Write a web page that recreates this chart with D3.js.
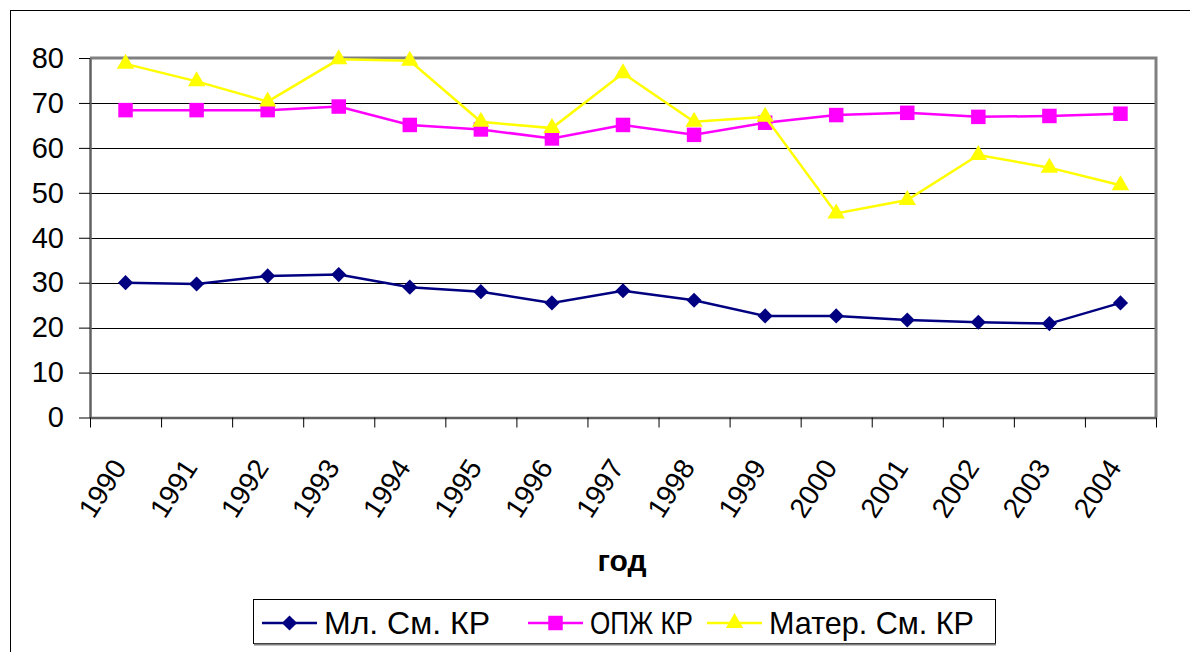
<!DOCTYPE html>
<html lang="ru">
<head>
<meta charset="UTF-8">
<title>Мл. См. КР / ОПЖ КР / Матер. См. КР</title>
<script src="https://cdn.jsdelivr.net/npm/d3@7"></script>
<style>
    body{ margin:0; background:#fff; }
    #svg_main{ width:1190px; height:652px; display:block; }
    text{ font-family:"Liberation Sans", Arial, sans-serif; fill:#000; }
    .grid line{ stroke:#000; stroke-width:1px; shape-rendering:crispEdges; }
    .series path.line{ fill:none; stroke-width:2.5px; }
</style>
</head>
<body>
<svg id="svg_main"></svg>
<script>
    // data
    const years = ['1990','1991','1992','1993','1994','1995','1996','1997','1998','1999','2000','2001','2002','2003','2004'];
    const mlSm   = [30.0, 29.7, 31.5, 31.8, 29.0, 28.0, 25.5, 28.2, 26.1, 22.6, 22.6, 21.7, 21.2, 20.9, 25.5];
    const opzh   = [68.4, 68.4, 68.4, 69.2, 65.1, 64.1, 62.1, 65.1, 62.9, 65.6, 67.3, 67.8, 66.9, 67.1, 67.6];
    const materSm= [78.7, 74.8, 70.3, 79.7, 79.4, 65.8, 64.4, 76.6, 65.8, 66.9, 45.4, 48.4, 58.4, 55.6, 51.7];
    const yTicks = [0, 10, 20, 30, 40, 50, 60, 70, 80];
    const seriesNames = ['Мл. См. КР', 'ОПЖ КР', 'Матер. См. КР'];
    const axisTitle = 'год';

    const width = 1190, height = 652;
    const plot = {left: 90, right: 1156, top: 58, bottom: 417.5};

    let svg = d3.select('#svg_main').attr('viewBox', [0, 0, width, height]);

    // outer chart border (runs off the right / bottom edges)
    svg.append('rect')
        .attr('x', 10.5).attr('y', 10.5)
        .attr('width', 1200).attr('height', 700)
        .attr('fill', '#fff').attr('stroke', '#000').attr('stroke-width', 1);

    let x = d3.scaleBand().domain(years).range([plot.left, plot.right]).padding(0);
    let xEdge = d3.scaleLinear().domain([0, years.length]).range([plot.left, plot.right]);
    let y = d3.scaleLinear().domain([0, 80]).range([plot.bottom, plot.top]);
    let cx = d => x(d) + x.bandwidth() / 2;

    // gridlines
    svg.append('g').attr('class', 'grid')
        .selectAll('line').data(yTicks.filter(v => v > 0 && v < 80)).enter()
        .append('line')
        .attr('x1', plot.left).attr('x2', plot.right)
        .attr('y1', d => Math.round(y(d)) + 0.5).attr('y2', d => Math.round(y(d)) + 0.5);

    // plot area frame: gray top and right
    svg.append('path')
        .attr('d', `M${plot.left},${plot.top}H${plot.right}V${plot.bottom}`)
        .attr('fill', 'none').attr('stroke', '#808080').attr('stroke-width', 3);

    // y axis
    let yAxis = d3.axisLeft(y).tickValues(yTicks).tickSize(11).tickPadding(15).tickSizeOuter(0);
    let gy = svg.append('g').attr('transform', `translate(${plot.left},0)`).call(yAxis);
    gy.select('.domain').attr('stroke', '#606060').attr('stroke-width', 2.5);
    gy.selectAll('.tick line').attr('stroke', '#000');
    gy.selectAll('.tick text').attr('font-size', 29).attr('font-family', '"Liberation Sans", Arial, sans-serif');

    // x axis: ticks between categories
    let xAxis = d3.axisBottom(xEdge).tickValues(d3.range(years.length + 1)).tickSize(10).tickFormat('').tickSizeOuter(0);
    let gx = svg.append('g').attr('transform', `translate(0,${plot.bottom})`).call(xAxis);
    gx.select('.domain').attr('stroke', '#606060').attr('stroke-width', 2.5);
    gx.selectAll('.tick line').attr('stroke', '#000');

    svg.append('g').selectAll('text').data(years).enter()
        .append('text')
        .attr('transform', d => `translate(${cx(d) + 2},${plot.bottom + 50}) rotate(-57)`)
        .attr('text-anchor', 'end')
        .attr('font-size', 28)
        .text(d => d);

    svg.append('text')
        .attr('x', 622).attr('y', 571)
        .attr('text-anchor', 'middle')
        .attr('font-size', 30).attr('font-weight', 'bold')
        .text(axisTitle);

    // marker shapes
    const diamond = {draw(ctx, size){ const r = Math.sqrt(size / 2);
        ctx.moveTo(0, -r); ctx.lineTo(r, 0); ctx.lineTo(0, r); ctx.lineTo(-r, 0); ctx.closePath(); }};
    const series = [
        {name: seriesNames[0], values: mlSm,    color: '#000080', symbol: d3.symbol(diamond, 115)},
        {name: seriesNames[1], values: opzh,    color: '#FF00FF', symbol: d3.symbol(d3.symbolSquare, 210)},
        {name: seriesNames[2], values: materSm, color: '#FFFF00', symbol: d3.symbol(d3.symbolTriangle, 130)}
    ];

    let line = d3.line().x((d, i) => cx(years[i])).y(d => y(d));

    // yellow drawn last, on top
    let sg = svg.selectAll('.series').data(series).enter()
        .append('g').attr('class', 'series');
    sg.append('path').attr('class', 'line')
        .attr('d', s => line(s.values))
        .attr('stroke', s => s.color);
    sg.each(function(s){
        d3.select(this).selectAll('.pt').data(s.values).enter()
            .append('path').attr('class', 'pt')
            .attr('transform', (d, i) => `translate(${cx(years[i])},${y(d)})`)
            .attr('d', s.symbol())
            .attr('fill', s.color);
    });

    // legend
    let legend = svg.append('g');
    legend.append('rect')
        .attr('x', 253.5).attr('y', 599.5).attr('width', 742).attr('height', 44)
        .attr('fill', '#fff').attr('stroke', '#000').attr('stroke-width', 1);
    legend.append('line')
        .attr('x1', 254).attr('x2', 996).attr('y1', 644.5).attr('y2', 644.5)
        .attr('stroke', '#808080').attr('stroke-width', 2);
    const legendX = [262, 528, 707];
    const legendEnd = 988;
    let li = legend.selectAll('.li').data(series).enter()
        .append('g').attr('transform', (s, i) => `translate(${legendX[i]},623)`);
    li.append('line').attr('x1', 0).attr('x2', 55).attr('y1', 0).attr('y2', 0)
        .attr('stroke', s => s.color).attr('stroke-width', 2.5);
    li.append('path').attr('transform', 'translate(27.5,0)')
        .attr('d', s => s.symbol()).attr('fill', s => s.color);
    li.append('text').attr('x', 62).attr('y', 11)
        .attr('font-size', 32)
        .text(s => s.name)
        .each(function(s, i){
            // squeeze a label if it would run into the next legend entry
            const room = (i < legendX.length - 1 ? legendX[i + 1] : legendEnd) - legendX[i] - 62 - 14;
            const w = this.getComputedTextLength();
            if (w > room) d3.select(this).attr('textLength', room).attr('lengthAdjust', 'spacingAndGlyphs');
        });
</script>
</body>
</html>
